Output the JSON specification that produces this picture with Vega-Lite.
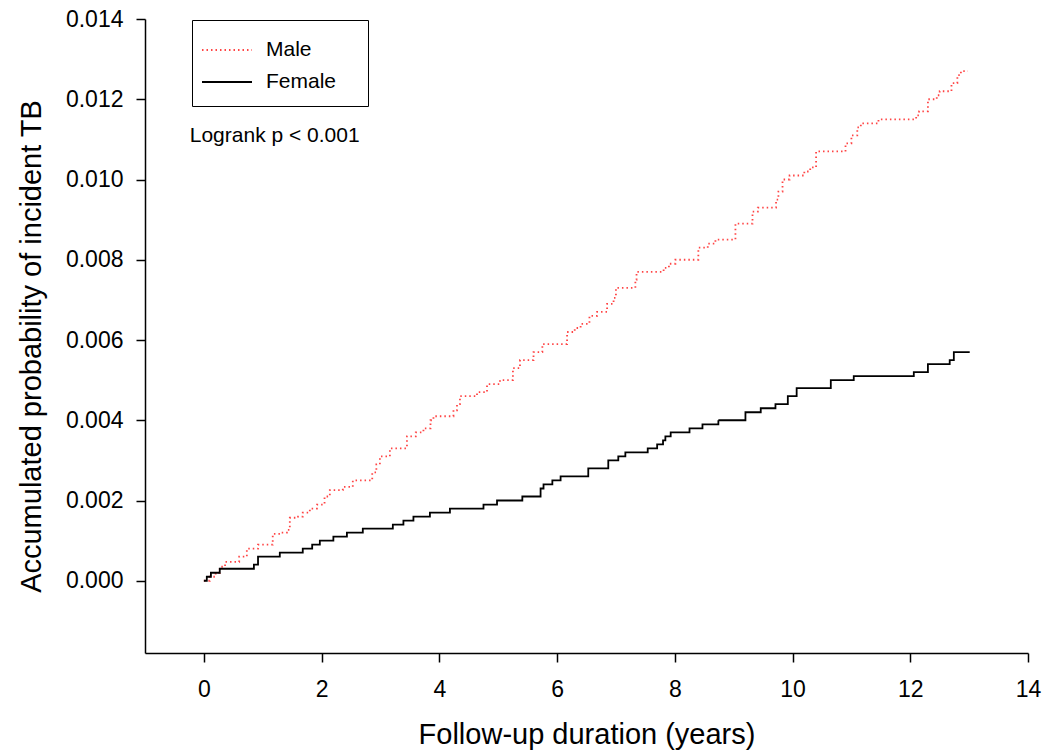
{
  "$schema": "https://vega.github.io/schema/vega-lite/v6.json",
  "autosize": "none",
  "width": 883,
  "height": 634,
  "padding": {"left": 145, "top": 19, "right": 16, "bottom": 97},
  "background": "white",
  "config": {
    "view": {"stroke": null},
    "font": "Liberation Sans",
    "axis": {
      "grid": false,
      "domainColor": "#000000",
      "domainWidth": 1.5,
      "tickColor": "#000000",
      "tickWidth": 1.5,
      "tickSize": 9,
      "labelColor": "#000000",
      "labelFont": "Liberation Sans",
      "labelFontSize": 23,
      "titleColor": "#000000",
      "titleFont": "Liberation Sans",
      "titleFontSize": 29,
      "titleFontWeight": "normal"
    }
  },
  "datasets": {
    "km": [
      {"t": 0, "p": 0, "sex": "Male"},
      {"t": 0.1, "p": 0.0001, "sex": "Male"},
      {"t": 0.2, "p": 0.0002, "sex": "Male"},
      {"t": 0.27, "p": 0.00035, "sex": "Male"},
      {"t": 0.36, "p": 0.00047, "sex": "Male"},
      {"t": 0.6, "p": 0.0006, "sex": "Male"},
      {"t": 0.73, "p": 0.0008, "sex": "Male"},
      {"t": 0.92, "p": 0.0009, "sex": "Male"},
      {"t": 1.17, "p": 0.00117, "sex": "Male"},
      {"t": 1.3, "p": 0.0012, "sex": "Male"},
      {"t": 1.41, "p": 0.00127, "sex": "Male"},
      {"t": 1.46, "p": 0.00157, "sex": "Male"},
      {"t": 1.6, "p": 0.0016, "sex": "Male"},
      {"t": 1.68, "p": 0.0017, "sex": "Male"},
      {"t": 1.8, "p": 0.0018, "sex": "Male"},
      {"t": 1.92, "p": 0.0019, "sex": "Male"},
      {"t": 2.05, "p": 0.0021, "sex": "Male"},
      {"t": 2.14, "p": 0.00226, "sex": "Male"},
      {"t": 2.36, "p": 0.00234, "sex": "Male"},
      {"t": 2.53, "p": 0.0025, "sex": "Male"},
      {"t": 2.86, "p": 0.0027, "sex": "Male"},
      {"t": 2.93, "p": 0.0029, "sex": "Male"},
      {"t": 2.99, "p": 0.0031, "sex": "Male"},
      {"t": 3.16, "p": 0.0033, "sex": "Male"},
      {"t": 3.45, "p": 0.0036, "sex": "Male"},
      {"t": 3.6, "p": 0.0037, "sex": "Male"},
      {"t": 3.73, "p": 0.0038, "sex": "Male"},
      {"t": 3.85, "p": 0.004, "sex": "Male"},
      {"t": 3.9, "p": 0.0041, "sex": "Male"},
      {"t": 4.24, "p": 0.00425, "sex": "Male"},
      {"t": 4.3, "p": 0.0044, "sex": "Male"},
      {"t": 4.35, "p": 0.0046, "sex": "Male"},
      {"t": 4.64, "p": 0.0047, "sex": "Male"},
      {"t": 4.81, "p": 0.0049, "sex": "Male"},
      {"t": 5.03, "p": 0.005, "sex": "Male"},
      {"t": 5.25, "p": 0.0053, "sex": "Male"},
      {"t": 5.37, "p": 0.0055, "sex": "Male"},
      {"t": 5.6, "p": 0.0057, "sex": "Male"},
      {"t": 5.75, "p": 0.0059, "sex": "Male"},
      {"t": 6.17, "p": 0.0062, "sex": "Male"},
      {"t": 6.3, "p": 0.0063, "sex": "Male"},
      {"t": 6.4, "p": 0.0064, "sex": "Male"},
      {"t": 6.55, "p": 0.0066, "sex": "Male"},
      {"t": 6.68, "p": 0.0067, "sex": "Male"},
      {"t": 6.85, "p": 0.0069, "sex": "Male"},
      {"t": 6.96, "p": 0.00705, "sex": "Male"},
      {"t": 7.0, "p": 0.0073, "sex": "Male"},
      {"t": 7.33, "p": 0.0075, "sex": "Male"},
      {"t": 7.35, "p": 0.0077, "sex": "Male"},
      {"t": 7.81, "p": 0.0078, "sex": "Male"},
      {"t": 7.9, "p": 0.0079, "sex": "Male"},
      {"t": 8.01, "p": 0.008, "sex": "Male"},
      {"t": 8.4, "p": 0.0083, "sex": "Male"},
      {"t": 8.56, "p": 0.0084, "sex": "Male"},
      {"t": 8.69, "p": 0.0085, "sex": "Male"},
      {"t": 9.03, "p": 0.0089, "sex": "Male"},
      {"t": 9.32, "p": 0.0092, "sex": "Male"},
      {"t": 9.41, "p": 0.0093, "sex": "Male"},
      {"t": 9.72, "p": 0.0095, "sex": "Male"},
      {"t": 9.76, "p": 0.0097, "sex": "Male"},
      {"t": 9.83, "p": 0.01, "sex": "Male"},
      {"t": 9.95, "p": 0.0101, "sex": "Male"},
      {"t": 10.2, "p": 0.0102, "sex": "Male"},
      {"t": 10.3, "p": 0.0103, "sex": "Male"},
      {"t": 10.4, "p": 0.0107, "sex": "Male"},
      {"t": 10.9, "p": 0.0109, "sex": "Male"},
      {"t": 11.0, "p": 0.0111, "sex": "Male"},
      {"t": 11.1, "p": 0.0113, "sex": "Male"},
      {"t": 11.16, "p": 0.0114, "sex": "Male"},
      {"t": 11.46, "p": 0.0115, "sex": "Male"},
      {"t": 12.1, "p": 0.0116, "sex": "Male"},
      {"t": 12.15, "p": 0.0117, "sex": "Male"},
      {"t": 12.3, "p": 0.012, "sex": "Male"},
      {"t": 12.45, "p": 0.0121, "sex": "Male"},
      {"t": 12.5, "p": 0.0122, "sex": "Male"},
      {"t": 12.7, "p": 0.0124, "sex": "Male"},
      {"t": 12.8, "p": 0.0126, "sex": "Male"},
      {"t": 12.86, "p": 0.0127, "sex": "Male"},
      {"t": 12.98, "p": 0.0127, "sex": "Male"},
      {"t": 0, "p": 0, "sex": "Female"},
      {"t": 0.05, "p": 0.0001, "sex": "Female"},
      {"t": 0.12, "p": 0.0002, "sex": "Female"},
      {"t": 0.27, "p": 0.0003, "sex": "Female"},
      {"t": 0.85, "p": 0.0004, "sex": "Female"},
      {"t": 0.92, "p": 0.0006, "sex": "Female"},
      {"t": 1.29, "p": 0.0007, "sex": "Female"},
      {"t": 1.68, "p": 0.0008, "sex": "Female"},
      {"t": 1.84, "p": 0.0009, "sex": "Female"},
      {"t": 1.97, "p": 0.001, "sex": "Female"},
      {"t": 2.2, "p": 0.0011, "sex": "Female"},
      {"t": 2.43, "p": 0.0012, "sex": "Female"},
      {"t": 2.7, "p": 0.0013, "sex": "Female"},
      {"t": 3.21, "p": 0.0014, "sex": "Female"},
      {"t": 3.39, "p": 0.0015, "sex": "Female"},
      {"t": 3.56, "p": 0.0016, "sex": "Female"},
      {"t": 3.84, "p": 0.0017, "sex": "Female"},
      {"t": 4.18, "p": 0.0018, "sex": "Female"},
      {"t": 4.75, "p": 0.0019, "sex": "Female"},
      {"t": 4.98, "p": 0.002, "sex": "Female"},
      {"t": 5.41, "p": 0.0021, "sex": "Female"},
      {"t": 5.72, "p": 0.0023, "sex": "Female"},
      {"t": 5.77, "p": 0.0024, "sex": "Female"},
      {"t": 5.92, "p": 0.0025, "sex": "Female"},
      {"t": 6.06, "p": 0.0026, "sex": "Female"},
      {"t": 6.53, "p": 0.0028, "sex": "Female"},
      {"t": 6.87, "p": 0.003, "sex": "Female"},
      {"t": 7.04, "p": 0.0031, "sex": "Female"},
      {"t": 7.16, "p": 0.0032, "sex": "Female"},
      {"t": 7.54, "p": 0.0033, "sex": "Female"},
      {"t": 7.7, "p": 0.0034, "sex": "Female"},
      {"t": 7.8, "p": 0.0035, "sex": "Female"},
      {"t": 7.84, "p": 0.0036, "sex": "Female"},
      {"t": 7.93, "p": 0.0037, "sex": "Female"},
      {"t": 8.25, "p": 0.0038, "sex": "Female"},
      {"t": 8.47, "p": 0.0039, "sex": "Female"},
      {"t": 8.74, "p": 0.004, "sex": "Female"},
      {"t": 9.2, "p": 0.0042, "sex": "Female"},
      {"t": 9.46, "p": 0.0043, "sex": "Female"},
      {"t": 9.71, "p": 0.0044, "sex": "Female"},
      {"t": 9.92, "p": 0.0046, "sex": "Female"},
      {"t": 10.07, "p": 0.0048, "sex": "Female"},
      {"t": 10.65, "p": 0.005, "sex": "Female"},
      {"t": 11.04, "p": 0.0051, "sex": "Female"},
      {"t": 12.06, "p": 0.0052, "sex": "Female"},
      {"t": 12.3, "p": 0.0054, "sex": "Female"},
      {"t": 12.67, "p": 0.0055, "sex": "Female"},
      {"t": 12.74, "p": 0.0057, "sex": "Female"},
      {"t": 13.01, "p": 0.0057, "sex": "Female"}
    ],
    "note": [
      {"t": -0.24, "p": 0.01094, "label": "Logrank p < 0.001"}
    ]
  },
  "layer": [
    {
      "data": {"name": "km"},
      "mark": {"type": "line", "interpolate": "step-after", "strokeWidth": 1.8},
      "encoding": {
        "x": {
          "field": "t",
          "type": "quantitative",
          "scale": {"domain": [-1, 14], "nice": false, "zero": false},
          "axis": {
            "values": [0, 2, 4, 6, 8, 10, 12, 14],
            "format": "d",
            "title": "Follow-up duration (years)",
            "labelPadding": 16,
            "titlePadding": 19,
            "labelFlush": false
          }
        },
        "y": {
          "field": "p",
          "type": "quantitative",
          "scale": {"domain": [-0.0018, 0.014], "nice": false, "zero": false},
          "axis": {
            "values": [0, 0.002, 0.004, 0.006, 0.008, 0.01, 0.012, 0.014],
            "format": ".3f",
            "title": "Accumulated probability of incident TB",
            "labelPadding": 13,
            "titlePadding": 19,
            "titleY": 327,
            "labelFlush": false
          }
        },
        "detail": {"field": "sex"},
        "color": {
          "field": "sex",
          "type": "nominal",
          "scale": {"domain": ["Male", "Female"], "range": ["#ff4444", "#000000"]},
          "legend": {
            "title": null,
            "orient": "none",
            "legendX": 47,
            "legendY": 1,
            "strokeColor": "#000000",
            "fillColor": "white",
            "padding": 14,
            "rowPadding": 6,
            "symbolType": "M-1.667,0H1.667",
            "symbolSize": 900,
            "symbolOffset": 5,
            "symbolStrokeWidth": 1.8,
            "labelOffset": 23,
            "labelFont": "Liberation Sans",
            "labelFontSize": 21,
            "labelColor": "#000000",
            "labelLimit": 300,
            "labelExpr": "datum.label + '\u00a0\u00a0\u00a0\u200b'"
          }
        },
        "strokeDash": {
          "field": "sex",
          "type": "nominal",
          "scale": {"domain": ["Male", "Female"], "range": [[1.5, 3], [1, 0]]},
          "legend": null
        }
      }
    },
    {
      "data": {"name": "note"},
      "mark": {"type": "text", "align": "left", "baseline": "alphabetic", "fontSize": 21, "font": "Liberation Sans", "color": "#000000"},
      "encoding": {
        "x": {"field": "t", "type": "quantitative"},
        "y": {"field": "p", "type": "quantitative"},
        "text": {"field": "label"}
      }
    }
  ]
}
